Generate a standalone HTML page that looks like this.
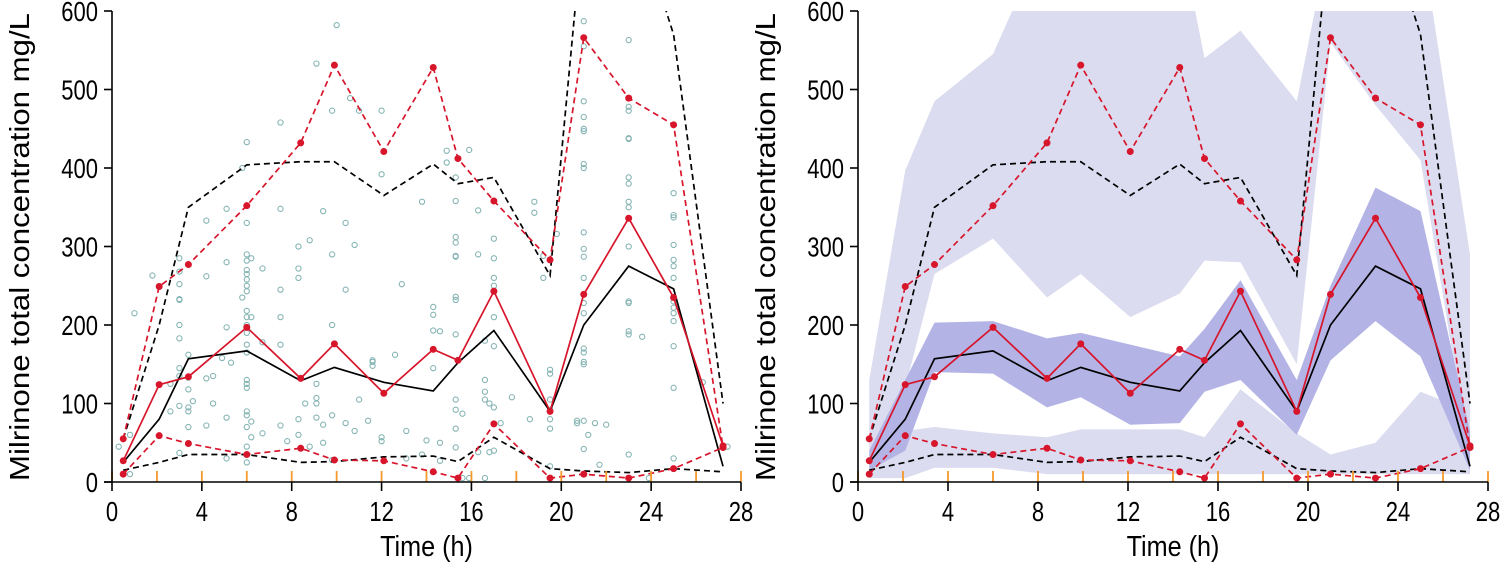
<!DOCTYPE html>
<html><head><meta charset="utf-8"><style>
body{margin:0;background:#fff}
svg{display:block;font-family:"Liberation Sans",sans-serif}
</style></head><body>
<svg id="chart" width="1502" height="562"></svg>
<script>
const times=[0.5,2.1,3.4,6.0,8.4,9.9,12.1,14.3,15.4,17.0,19.5,21.0,23.0,25.0,27.2];
const obsMed=[27,124,134,197,132,176,113,169,155,243,90,239,336,235,46];
const obsHi=[55,249,277,352,432,531,421,528,412,358,283,566,489,455,44];
const obsLo=[10,59,49,35,43,28,27,13,5,74,5,10,5,17,44];
const predMed=[25,80,157,167,129,146,127,116,152,193,90,200,275,246,20];
const predHi=[55,200,350,404,408,408,365,405,380,388,263,720,750,570,100];
const predLo=[15,25,35,35,25,26,32,33,26,57,17,14,12,17,13];
const hiBandTop=[130,397,485,545,700,700,700,700,540,575,485,700,700,700,290];
const hiBandBot=[30,120,265,310,235,265,210,240,282,280,150,560,480,410,30];
const midBandTop=[40,130,203,205,183,190,175,160,195,257,130,250,375,345,65];
const midBandBot=[15,40,140,138,95,108,73,75,115,130,60,155,205,160,15];
const loBandTop=[40,65,70,62,57,67,67,67,57,118,62,35,50,115,90];
const loBandBot=[5,5,18,18,10,10,10,10,10,10,10,10,10,10,10];
const obsT=[0.3,0.8,0.8,1.0,1.8,2.6,2.6,3,3,3,3,3,3,3,3,3,3,3,3.4,3.4,3.4,3.4,3.4,3.4,3.6,4.2,4.2,4.2,4.2,4.5,4.5,4.9,5.1,5.1,5.1,5.1,5.1,5.3,5.8,5.8,6,6,6,6,6,6,6,6,6,6,6,6,6,6,6,6,6,6,6,6,6,6,6,6.2,6.2,6.2,6.2,6.7,6.7,6.7,7.5,7.5,7.5,7.5,7.5,7.5,7.8,8.3,8.3,8.3,8.3,8.3,8.6,8.8,8.8,9.1,9.1,9.1,9.1,9.1,9.4,9.4,9.4,9.8,9.8,9.8,9.8,9.8,10,10.4,10.4,10.4,10.6,10.8,10.8,11,11,11.4,11.6,11.6,11.6,12,12,12,12,12.6,12.9,13.1,13.1,13.8,13.8,14,14.3,14.3,14.3,14.3,14.6,14.6,14.6,14.9,14.9,15.3,15.3,15.3,15.3,15.3,15.3,15.3,15.3,15.3,15.3,15.3,15.3,15.3,15.6,15.6,15.9,15.9,16.3,16.3,16.3,16.6,16.6,16.6,16.6,16.6,16.8,16.8,17,17,17,17,17,17,17,17,17.3,17.8,18.6,18.8,18.8,19.2,19.2,19.5,19.5,19.5,19.5,19.5,19.5,19.5,19.8,20.7,20.7,21,21,21,21,21,21,21,21,21,21,21,21,21,21,21,21,21,21,21,21,21.2,21.5,22,21.7,23,23,23,23,23,23,23,23,23,23,23,23,23,23,23,23.6,23.9,25,25,25,25,25,25,25,25,25,25,25,25,25,25,26.3,27.4];
const obsC=[45,60,10,215,263,125,90,285,268,252,233,232,200,183,145,97,37,135,95,90,70,118,133,162,103,333,262,72,132,135,100,158,197,280,348,82,30,152,400,235,433,330,290,282,270,265,258,250,243,218,210,200,190,175,165,130,125,120,90,85,70,45,25,285,210,77,57,272,178,62,458,348,245,175,210,72,52,300,272,260,80,60,100,308,45,533,125,100,82,107,345,73,50,473,290,200,85,28,582,330,245,75,489,302,65,473,105,78,155,148,153,473,392,57,52,162,252,30,65,357,35,53,223,213,193,145,192,50,27,422,407,388,358,312,305,288,287,236,232,188,105,92,68,44,5,87,423,5,346,290,38,130,115,105,180,5,100,38,310,285,260,250,210,173,95,40,75,108,80,357,343,288,260,143,138,105,80,92,68,20,316,75,78,587,555,485,465,450,447,405,400,318,297,287,260,228,215,170,165,153,150,78,42,60,75,73,22,563,478,473,438,437,388,380,357,350,300,228,230,192,188,35,185,5,368,340,337,302,283,275,260,230,222,215,205,173,120,30,127,45];
const yTicks=[0,100,200,300,400,500,600];
const xTicks=[0,4,8,12,16,20,24,28];

const NS="http://www.w3.org/2000/svg";
const svg=document.getElementById('chart');
function el(tag,attrs,parent,text){const e=document.createElementNS(NS,tag);for(const k in attrs)e.setAttribute(k,attrs[k]);if(text!==undefined)e.textContent=text;(parent||svg).appendChild(e);return e;}

function panel(x0,x1,name,withBands){
  const y0=482,y1=11;
  const sx=t=>x0+(x1-x0)*t/28;
  const sy=v=>y0-(y0-y1)*v/600;
  const g=el('g',{},svg);
  
  
  const cp=el('clipPath',{id:'clip-'+name},g);
  el('rect',{x:x0,y:y1,width:x1-x0+2,height:y0-y1},cp);
  const plot=el('g',{'clip-path':'url(#clip-'+name+')'},g);
  const poly=(top,bot,fill,nm)=>{
    let pts=times.map((t,i)=>sx(t)+','+sy(top[i]));
    pts=pts.concat(times.slice().reverse().map((t,j)=>{const i=times.length-1-j;return sx(t)+','+sy(bot[i]);}));
    const p=el('polygon',{points:pts.join(' '),fill:fill},plot);
    
    
  };
  if(withBands){
    poly(hiBandTop,hiBandBot,'#dcdcf0','upper-percentile-ci');
    poly(loBandTop,loBandBot,'#dcdcf0','lower-percentile-ci');
    poly(midBandTop,midBandBot,'#b3b3e5','median-ci');
  } else {
    obsT.forEach((t,i)=>{
      const c=el('circle',{cx:sx(t),cy:sy(obsC[i]),r:2.6,fill:'none',stroke:'#86b4b4','stroke-width':1.1},plot);
      
      
    });
  }
  const line=(vals,color,dash,nm,pts)=>{
    const l=el('polyline',{points:times.map((t,i)=>sx(t)+','+sy(vals[i])).join(' '),fill:'none',stroke:color,'stroke-width':1.7,'stroke-dasharray':dash?'6,4':'none'},plot);
    
    
    if(pts) times.forEach((t,i)=>{
      const c=el('circle',{cx:sx(t),cy:sy(vals[i]),r:3.5,fill:'#d7152b'},plot);
      
      
    });
  };
  line(predHi,'#000',true,'predicted-95th');
  line(predLo,'#000',true,'predicted-5th');
  line(predMed,'#000',false,'predicted-median');
  line(obsHi,'#d7152b',true,'observed-95th',true);
  line(obsLo,'#d7152b',true,'observed-5th',true);
  line(obsMed,'#d7152b',false,'observed-median',true);
  for(let t=0;t<=28;t+=2){
    const o=el('line',{x1:sx(t),x2:sx(t),y1:471,y2:482,stroke:'#f59a2a','stroke-width':1.8},g);
    
    
  }
  const xa=el('line',{x1:x0-8,x2:x1,y1:y0,y2:y0,stroke:'#000','stroke-width':1.6},g);
  
  
  const ya=el('line',{x1:x0,x2:x0,y1:y1,y2:y0,stroke:'#000','stroke-width':1.6},g);
  
  
  xTicks.forEach(t=>{
    el('line',{x1:sx(t),x2:sx(t),y1:y0,y2:y0+9,stroke:'#000','stroke-width':1.6},g);
    const tx=el('text',{x:sx(t),y:0,'text-anchor':'middle','font-size':22,transform:'translate(0,521) scale(1,1.25)'},g,String(t));
    tx.setAttribute('x',sx(t));
    
    
  });
  yTicks.forEach(v=>{
    el('line',{x1:x0-8,x2:x0,y1:sy(v),y2:sy(v),stroke:'#000','stroke-width':1.6},g);
    const tx=el('text',{x:0,y:0,'text-anchor':'end','font-size':22,transform:'translate('+(x0-14)+','+(sy(v)+10)+') scale(1,1.25)'},g,String(v));
    
    
  });
  const xt=el('text',{x:0,y:0,'text-anchor':'middle','font-size':24,transform:'translate('+((x0+x1)/2)+',556) scale(1.05,1.2)'},g,'Time (h)');
  
  
  const yt=el('text',{x:0,y:0,'text-anchor':'middle','font-size':24,transform:'translate('+(x0-83)+',247) rotate(-90) scale(1.3,1.15)'},g,'Milrinone total concentration mg/L');
  
  
}
panel(112,741,'vpc-scatter-panel',false);
panel(858,1488,'vpc-ci-panel',true);
</script>
</body></html>
